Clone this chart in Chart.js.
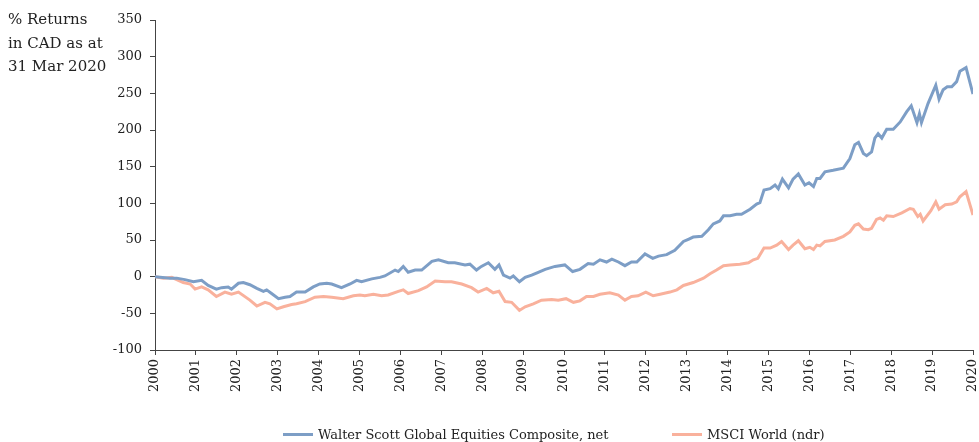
<!DOCTYPE html>
<html>
<head>
<meta charset="utf-8">
<script src="https://cdn.jsdelivr.net/npm/chart.js@4/dist/chart.umd.min.js"></script>
<style>
  body { margin: 0; background: #fff; }
  .wrap { position: relative; width: 979px; height: 442px; font-family: "DejaVu Serif", serif; color: #222; }
  .axis-note { position: absolute; left: 8px; top: 8px; font-size: 15px; line-height: 23.5px; }
  .legend { position: absolute; top: 427px; font-size: 13px; line-height: 16px; white-space: nowrap; }
  .legend span.swatch { display: inline-block; width: 30px; height: 3px; vertical-align: middle; margin-right: 5px; position: relative; top: -1px; }
</style>
</head>
<body>
<div class="wrap">
  <canvas id="returns_chart" width="979" height="442"></canvas>
  <div class="axis-note">% Returns<br>in CAD as at<br>31 Mar 2020</div>
  <div class="legend" style="left:283px"><span class="swatch" style="background:#7d9ec6"></span>Walter Scott Global Equities Composite, net</div>
  <div class="legend" style="left:672px"><span class="swatch" style="background:#f9b19c"></span>MSCI World (ndr)</div>
</div>
<script>
// values, x in decimal years
const wsYears = [2000.00, 2000.37, 2000.53, 2000.73, 2000.94, 2001.14, 2001.30, 2001.50, 2001.63, 2001.79, 2001.87,
  2002.04, 2002.16, 2002.32, 2002.49, 2002.65, 2002.73, 2002.85, 2003.02, 2003.18, 2003.30, 2003.46, 2003.67, 2003.87,
  2004.03, 2004.20, 2004.32, 2004.56, 2004.77, 2004.93, 2005.05, 2005.30, 2005.50, 2005.62, 2005.87, 2005.95,
  2006.07, 2006.19, 2006.36, 2006.52, 2006.77, 2006.93, 2007.17, 2007.33, 2007.58, 2007.70, 2007.86, 2007.98,
  2008.15, 2008.31, 2008.41, 2008.52, 2008.68, 2008.76, 2008.91, 2009.05, 2009.21, 2009.37, 2009.54, 2009.78,
  2010.02, 2010.21, 2010.39, 2010.59, 2010.72, 2010.88, 2011.04, 2011.17, 2011.33, 2011.49, 2011.65, 2011.78,
  2011.98, 2012.17, 2012.31, 2012.51, 2012.71, 2012.92, 2013.04, 2013.16, 2013.37, 2013.53, 2013.65, 2013.81,
  2013.90, 2014.06, 2014.22, 2014.34, 2014.55, 2014.71, 2014.79, 2014.89, 2015.04, 2015.16, 2015.24, 2015.34,
  2015.49, 2015.60, 2015.73, 2015.89, 2015.99, 2016.10, 2016.18, 2016.26, 2016.38, 2016.58, 2016.83, 2016.99,
  2017.11, 2017.20, 2017.32, 2017.40, 2017.52, 2017.60, 2017.68, 2017.77, 2017.89, 2018.05, 2018.22, 2018.38,
  2018.49, 2018.63, 2018.69, 2018.74, 2018.90, 2019.09, 2019.17, 2019.27, 2019.37, 2019.48, 2019.60, 2019.68,
  2019.83, 2020.00];
const wsReturns = [0, -2, -2, -4, -7, -5, -12, -17, -15, -14, -17,
  -9, -8, -11, -16, -20, -18, -23, -30, -28, -27, -21, -21, -14,
  -10, -9, -10, -15, -10, -5, -7, -3, -1, 1, 9, 7,
  14, 6, 9, 9, 21, 23, 19, 19, 16, 17, 9, 14,
  19, 10, 16, 2, -2, 1, -7, -1, 2, 6, 10, 14,
  16, 7, 10, 18, 17, 23, 20, 24, 20, 15, 20, 20,
  31, 25, 28, 30, 36, 48, 51, 54, 55, 64, 72, 76,
  83, 83, 85, 85, 92, 99, 101, 118, 120, 125, 120, 133,
  121, 133, 140, 125, 128, 123, 134, 134, 143, 145, 148, 161,
  180, 183, 168, 165, 170, 189, 195, 189, 201, 201, 211, 225,
  233, 210, 222, 210, 236, 261, 242, 255, 259, 259, 266, 280,
  285, 249];

const msciYears = [2000.00, 2000.20, 2000.41, 2000.57, 2000.69, 2000.86, 2000.98, 2001.14, 2001.30, 2001.50, 2001.71,
  2001.87, 2002.04, 2002.32, 2002.49, 2002.69, 2002.81, 2002.98, 2003.14, 2003.34, 2003.46, 2003.67, 2003.91,
  2004.12, 2004.32, 2004.60, 2004.85, 2005.01, 2005.13, 2005.34, 2005.54, 2005.70, 2005.95, 2006.07, 2006.19,
  2006.44, 2006.64, 2006.85, 2007.09, 2007.25, 2007.50, 2007.74, 2007.90, 2008.11, 2008.27, 2008.41, 2008.56,
  2008.72, 2008.91, 2009.05, 2009.25, 2009.45, 2009.70, 2009.86, 2010.05, 2010.23, 2010.39, 2010.55, 2010.72,
  2010.88, 2011.12, 2011.33, 2011.49, 2011.65, 2011.81, 2012.00, 2012.18, 2012.35, 2012.59, 2012.76, 2012.92,
  2013.16, 2013.41, 2013.57, 2013.73, 2013.90, 2014.06, 2014.30, 2014.51, 2014.63, 2014.74, 2014.89, 2015.04,
  2015.20, 2015.32, 2015.49, 2015.60, 2015.73, 2015.89, 2016.01, 2016.10, 2016.18, 2016.26, 2016.38, 2016.62,
  2016.83, 2016.99, 2017.11, 2017.20, 2017.32, 2017.44, 2017.52, 2017.64, 2017.73, 2017.81, 2017.89, 2018.05,
  2018.26, 2018.46, 2018.54, 2018.65, 2018.71, 2018.78, 2018.97, 2019.09, 2019.17, 2019.32, 2019.48, 2019.60,
  2019.68, 2019.83, 2020.00];
const msciReturns = [0, -2, -1, -5, -8, -10, -17, -14, -18, -27, -21,
  -24, -21, -32, -40, -35, -37, -44, -41, -38, -37, -34, -28,
  -27, -28, -30, -26, -25, -26, -24, -26, -25, -20, -18, -23,
  -19, -14, -6, -7, -7, -10, -15, -21, -16, -22, -20, -34,
  -35, -46, -41, -37, -32, -31, -32, -30, -35, -33, -27, -27,
  -24, -22, -25, -32, -27, -26, -21, -26, -24, -21, -18, -12,
  -8, -2, 4, 9, 15, 16, 17, 19, 23, 25, 39, 39,
  43, 48, 37, 43, 49, 38, 40, 37, 43, 42, 48, 50,
  55, 61, 70, 72, 65, 64, 66, 78, 80, 77, 83, 82,
  87, 93, 92, 82, 85, 76, 90, 102, 92, 98, 99, 102,
  109, 116, 84];

const yearTicks = [2000, 2020];
const returnTicks = [-100, 350, 50];

const serif = { family: 'DejaVu Serif', size: 13 };
const axisColor = '#444';

function toPoints(xs, ys) {
  return xs.map((x, i) => ({ x: x, y: ys[i] }));
}

const ctx = document.getElementById('returns_chart');

new Chart(ctx, {
  type: 'line',
  data: {
    datasets: [{
      label: 'Walter Scott Global Equities Composite, net',
      data: toPoints(wsYears, wsReturns),
      borderColor: '#7d9ec6',
      borderWidth: 3,
      pointRadius: 0,
      tension: 0
    }, {
      label: 'MSCI World (ndr)',
      data: toPoints(msciYears, msciReturns),
      borderColor: '#f9b19c',
      borderWidth: 3,
      pointRadius: 0,
      tension: 0
    }]
  },
  options: {
    responsive: false,
    animation: false,
    devicePixelRatio: 1,
    layout: { padding: { top: 20, right: 6, left: 0, bottom: 0 } },
    plugins: {
      legend: { display: false },
      tooltip: { enabled: false }
    },
    scales: {
      x: {
        type: 'linear',
        min: yearTicks[0],
        max: yearTicks[1],
        ticks: {
          stepSize: 1,
          minRotation: 90,
          maxRotation: 90,
          padding: 4,
          color: '#222',
          font: serif,
          callback: (v) => String(v)
        },
        grid: { drawOnChartArea: false, drawTicks: true, tickLength: 5, color: axisColor },
        border: { display: true, color: axisColor, width: 1 },
        afterFit: (scale) => {
          scale.height = 92;
          // let the last rotated label sit on the right edge like the original
          scale.paddingRight = 0;
          scale.paddingLeft = 0;
        }
      },
      y: {
        min: returnTicks[0],
        max: returnTicks[1],
        ticks: {
          stepSize: returnTicks[2],
          padding: 8,
          color: '#222',
          font: serif,
          callback: (v) => String(v)
        },
        grid: { drawOnChartArea: false, drawTicks: true, tickLength: 5, color: axisColor },
        border: { display: true, color: axisColor, width: 1 },
        afterFit: (scale) => { scale.width = 155; }
      }
    }
  }
});
</script>
</body>
</html>
